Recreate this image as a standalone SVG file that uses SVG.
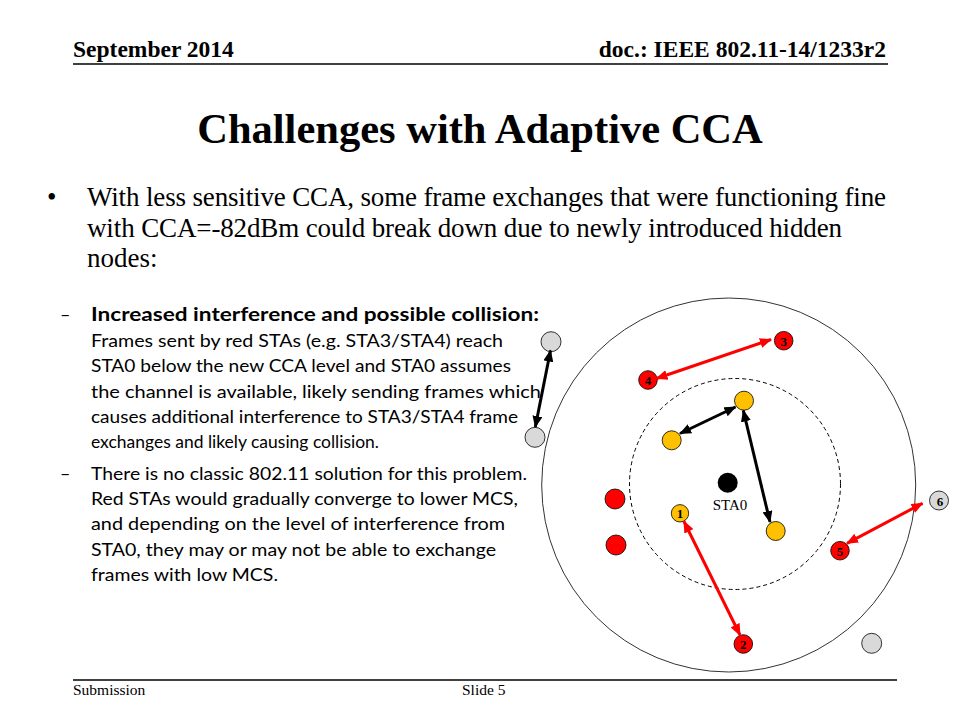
<svg xmlns="http://www.w3.org/2000/svg" width="960" height="720" viewBox="0 0 960 720">
<defs>
<style>
.hdr{font-family:"Liberation Serif","Times New Roman",serif;font-weight:bold;font-size:23.5px;fill:#000}
.title{font-family:"Liberation Serif","Times New Roman",serif;font-weight:bold;font-size:42.5px;fill:#000}
.body{font-family:"Liberation Serif","Times New Roman",serif;font-size:27px;fill:#000}
.sub{font-family:Lato,"Liberation Sans",sans-serif;font-size:18px;fill:#000}
.subb{font-family:Lato,"Liberation Sans",sans-serif;font-size:18px;font-weight:bold;fill:#000}
.foot{font-family:"Liberation Serif","Times New Roman",serif;font-size:15.5px;fill:#000}
.lbl{font-family:"Liberation Serif","Times New Roman",serif;font-weight:bold;font-size:13px;fill:#000;text-anchor:middle}
.sta{font-family:"Liberation Serif","Times New Roman",serif;font-size:15px;fill:#000;text-anchor:middle}
.rule{stroke:#000;stroke-width:1.5}
.red{fill:#FF0000;stroke:#000;stroke-width:0.8}
.yel{fill:#FFC000;stroke:#000;stroke-width:0.8}
.gry{fill:#D9D9D9;stroke:#000;stroke-width:0.8}
.ck{stroke:#000;stroke-width:3;fill:none;marker-start:url(#ahK);marker-end:url(#ahK)}
.cr{stroke:#FF0000;stroke-width:3;fill:none;marker-start:url(#ahR);marker-end:url(#ahR)}
</style>
<marker id="ahK" markerUnits="userSpaceOnUse" markerWidth="12" markerHeight="10" refX="11" refY="5" orient="auto-start-reverse" viewBox="0 0 12 10"><path d="M0,0 L12,5 L0,10 z" fill="#000"/></marker>
<marker id="ahR" markerUnits="userSpaceOnUse" markerWidth="12" markerHeight="10" refX="11" refY="5" orient="auto-start-reverse" viewBox="0 0 12 10"><path d="M0,0 L12,5 L0,10 z" fill="#FF0000"/></marker>
</defs>
<rect width="960" height="720" fill="#fff"/>
<g id="header">
<text class="hdr" x="73" y="57">September 2014</text>
<text class="hdr" x="886" y="57" text-anchor="end">doc.: IEEE 802.11-14/1233r2</text>
<line class="rule" x1="73" y1="64" x2="888" y2="64"/>
</g>
<g id="title"><text class="title" x="480" y="143" text-anchor="middle">Challenges with Adaptive CCA</text></g>
<g id="bullet">
<text class="body" x="47" y="206">•</text>
<text class="body" x="87" y="206" textLength="799">With less sensitive CCA, some frame exchanges that were functioning fine</text>
<text class="body" x="87" y="237" textLength="755">with CCA=-82dBm could break down due to newly introduced hidden</text>
<text class="body" x="87" y="267">nodes:</text>
</g>
<g id="subbullets">
<text class="sub" x="60" y="321">–</text>
<text class="subb" x="91" y="321" textLength="448" lengthAdjust="spacingAndGlyphs">Increased interference and possible collision:</text>
<text class="sub" x="91" y="347" textLength="412" lengthAdjust="spacingAndGlyphs">Frames sent by red STAs (e.g. STA3/STA4) reach</text>
<text class="sub" x="91" y="372" textLength="420" lengthAdjust="spacingAndGlyphs">STA0 below the new CCA level and STA0 assumes</text>
<text class="sub" x="91" y="398" textLength="450" lengthAdjust="spacingAndGlyphs">the channel is available, likely sending frames which</text>
<text class="sub" x="91" y="423" textLength="427" lengthAdjust="spacingAndGlyphs">causes additional interference to STA3/STA4 frame</text>
<text class="sub" x="91" y="448" textLength="288" lengthAdjust="spacingAndGlyphs">exchanges and likely causing collision.</text>
<text class="sub" x="60" y="480">–</text>
<text class="sub" x="91" y="480" textLength="436" lengthAdjust="spacingAndGlyphs">There is no classic 802.11 solution for this problem.</text>
<text class="sub" x="91" y="505" textLength="427" lengthAdjust="spacingAndGlyphs">Red STAs would gradually converge to lower MCS,</text>
<text class="sub" x="91" y="530" textLength="414" lengthAdjust="spacingAndGlyphs">and depending on the level of interference from</text>
<text class="sub" x="91" y="556" textLength="405" lengthAdjust="spacingAndGlyphs">STA0, they may or may not be able to exchange</text>
<text class="sub" x="91" y="581" textLength="187" lengthAdjust="spacingAndGlyphs">frames with low MCS.</text>
</g>
<g id="ranges">
<circle cx="728.7" cy="485" r="187" fill="none" stroke="#333" stroke-width="1"/>
<circle cx="735" cy="484" r="105.5" fill="none" stroke="#000" stroke-width="1" stroke-dasharray="4 3"/>
</g>
<g id="sta0"><circle cx="727.7" cy="482.7" r="10" fill="#000"/><text class="sta" x="730" y="510">STA0</text></g>
<g id="sta1"><circle class="yel" cx="680" cy="513.3" r="8.7"/><text class="lbl" x="680" y="518">1</text></g>
<g id="sta2"><circle class="red" cx="743.3" cy="644" r="9.3"/><text class="lbl" x="743.3" y="649">2</text></g>
<g id="sta3"><circle class="red" cx="783.7" cy="340.7" r="9.3"/><text class="lbl" x="783.7" y="345.5">3</text></g>
<g id="sta4"><circle class="red" cx="648" cy="380" r="9.3"/><text class="lbl" x="648" y="385">4</text></g>
<g id="sta5"><circle class="red" cx="840" cy="550.7" r="9.3"/><text class="lbl" x="840" y="556">5</text></g>
<g id="sta6"><circle class="gry" cx="939" cy="500.5" r="9.5"/><text class="lbl" x="940" y="505.5">6</text></g>
<g id="yellow-a"><circle class="yel" cx="744" cy="400.7" r="9.5"/></g>
<g id="yellow-b"><circle class="yel" cx="671.7" cy="440.3" r="9.5"/></g>
<g id="yellow-c"><circle class="yel" cx="775.7" cy="531" r="9.5"/></g>
<g id="red-a"><circle class="red" cx="615" cy="499" r="10"/></g>
<g id="red-b"><circle class="red" cx="616" cy="545" r="10"/></g>
<g id="gray-a"><circle class="gry" cx="551" cy="341.7" r="10"/></g>
<g id="gray-b"><circle class="gry" cx="535" cy="437.3" r="10"/></g>
<g id="gray-c"><circle class="gry" cx="871.7" cy="643.3" r="10"/></g>
<g id="connectors">
<line class="ck" x1="535.3" y1="427" x2="550.5" y2="350.5"/>
<line class="cr" x1="771" y1="339.5" x2="656.5" y2="378.5"/>
<line class="ck" x1="735.5" y1="407" x2="680" y2="433.5"/>
<line class="ck" x1="743.3" y1="410.5" x2="770" y2="522"/>
<line class="cr" x1="684" y1="521.5" x2="740" y2="635"/>
<line class="cr" x1="847" y1="543.3" x2="922.5" y2="503.3"/>
</g>
<g id="footer">
<line class="rule" x1="73" y1="680" x2="897" y2="680"/>
<text class="foot" x="73" y="695">Submission</text>
<text class="foot" x="462" y="695">Slide 5</text>
</g>
</svg>
